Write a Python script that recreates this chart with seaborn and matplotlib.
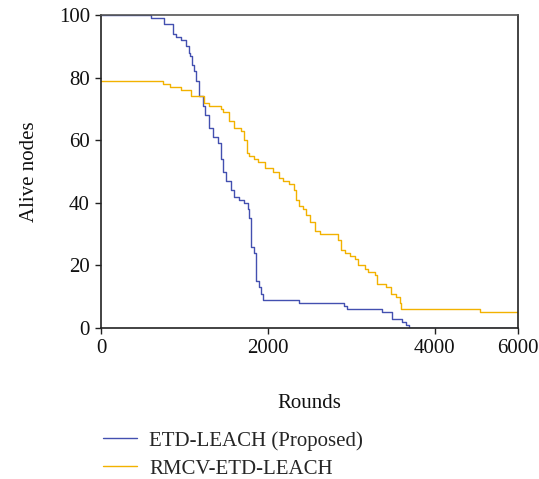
import matplotlib
matplotlib.use("Agg")
import matplotlib.pyplot as plt
import seaborn as sns
import pandas as pd

# Data (rounds, alive nodes), step curves
etd_rounds = [0, 600, 750, 860, 900, 960, 1020, 1050, 1070, 1090,
              1110, 1140, 1180, 1220, 1250, 1300, 1340, 1400, 1440, 1460,
              1500, 1560, 1600, 1660, 1720, 1760, 1780, 1800, 1840, 1860,
              1890, 1920, 1940, 2380, 2910, 2955, 3375, 3495, 3615, 3655,
              3695, 5000]
etd_alive = [100, 99, 97, 94, 93, 92, 90, 88, 87, 84,
             82, 79, 74, 71, 68, 64, 61, 59, 54, 50,
             47, 44, 42, 41, 40, 38, 35, 26, 24, 15,
             13, 11, 9, 8, 7, 6, 5, 3, 2, 1,
             0, 0]

rmcv_rounds = [0, 740, 830, 960, 1080, 1240, 1300, 1440, 1460, 1540,
               1600, 1680, 1710, 1750, 1780, 1840, 1880, 1970, 2060, 2140,
               2180, 2260, 2310, 2340, 2380, 2420, 2460, 2500, 2560, 2620,
               2840, 2880, 2920, 2980, 3040, 3080, 3160, 3200, 3280, 3310,
               3420, 3480, 3540, 3580, 3600, 4545, 5000]
rmcv_alive = [79, 78, 77, 76, 74, 72, 71, 70, 69, 66,
              64, 63, 60, 56, 55, 54, 53, 51, 50, 48,
              47, 46, 44, 41, 39, 38, 36, 34, 31, 30,
              28, 25, 24, 23, 22, 20, 19, 18, 17, 14,
              13, 11, 10, 8, 6, 5, 5]

series_names = ["ETD-LEACH (Proposed)", "RMCV-ETD-LEACH"]
series_colors = ["#4350b0", "#f2b200"]

x_tick_pos = [0, 2000, 4000, 5000]
x_tick_labels = ["0", "2000", "4000", "6000"]
y_ticks = [0, 20, 40, 60, 80, 100]

df = pd.concat([
    pd.DataFrame({"Rounds": etd_rounds, "Alive": etd_alive, "Protocol": series_names[0]}),
    pd.DataFrame({"Rounds": rmcv_rounds, "Alive": rmcv_alive, "Protocol": series_names[1]}),
])

sns.set_theme(style="white")
plt.rcParams["font.family"] = ["Liberation Serif", "DejaVu Serif"]

fig = plt.figure(figsize=(5.39, 4.79), dpi=100)
ax = fig.add_axes([101/539, 1 - 328/479, (518-101)/539, (328-15)/479])

sns.lineplot(data=df, x="Rounds", y="Alive", hue="Protocol",
             palette=dict(zip(series_names, series_colors)),
             drawstyle="steps-post", linewidth=1.0, ax=ax, legend=False,
             estimator=None, sort=False)

ax.set_xlim(0, 5000)
ax.set_ylim(0, 100)
ax.set_xticks(x_tick_pos)
ax.set_xticklabels(x_tick_labels)
ax.set_yticks(y_ticks)
ax.tick_params(axis="both", which="both", direction="out", length=4, width=1,
               labelsize=15, color="#222222", labelcolor="#111111", pad=4,
               bottom=True, left=True)
for s in ["left", "bottom", "right"]:
    ax.spines[s].set_color("#222222")
    ax.spines[s].set_linewidth(1.2)
ax.spines["top"].set_color("#555555")
ax.spines["top"].set_linewidth(1.2)

ax.set_xlabel("Rounds", fontsize=15, labelpad=26, color="#111111")
ax.set_ylabel("Alive nodes", fontsize=15, labelpad=14, color="#111111")

handles = [plt.Line2D([], [], color=c, linewidth=1.0) for c in series_colors]
fig.legend(handles, series_names, loc="upper left",
           bbox_to_anchor=(103/539, 1 - 431/479), frameon=False,
           fontsize=15, handlelength=1.63, handletextpad=0.58,
           labelspacing=0.40, borderaxespad=0, borderpad=0)

fig.savefig("out.png", dpi=100)
